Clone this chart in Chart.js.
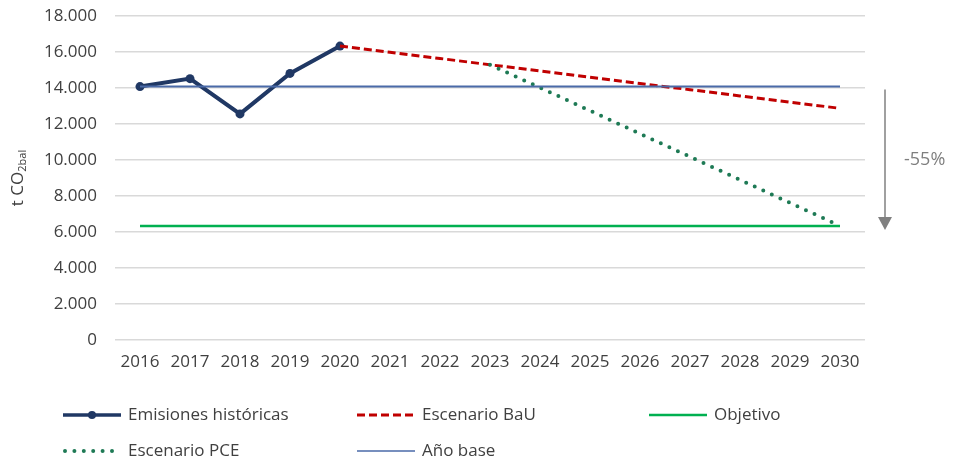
<!DOCTYPE html>
<html>
<head>
<meta charset="utf-8">
<script src="https://cdn.jsdelivr.net/npm/chart.js@4"></script>
<style>
  html, body { margin: 0; padding: 0; background: #fff; }
  #wrap { width: 955px; height: 464px; position: relative; }
</style>
</head>
<body>
<div id="wrap"><canvas id="chart1" width="955" height="464"></canvas></div>
<script>
const years = ['2016', '2017', '2018', '2019', '2020', '2021', '2022', '2023',
               '2024', '2025', '2026', '2027', '2028', '2029', '2030'];
const historic = [14080, 14520, 12560, 14810, 16330, null, null, null, null, null, null, null, null, null, null];
const bau = [null, null, null, null, 16330, 15985, 15640, 15290, 14945, 14600, 14250, 13905, 13560, 13215, 12870];
const pce = [null, null, null, null, null, null, null, 15290, 14020, 12740, 11460, 10180, 8900, 7620, 6340];
const baseYear = [14080, 14080, 14080, 14080, 14080, 14080, 14080, 14080, 14080, 14080, 14080, 14080, 14080, 14080, 14080];
const target = [6340, 6340, 6340, 6340, 6340, 6340, 6340, 6340, 6340, 6340, 6340, 6340, 6340, 6340, 6340];
const yTicks = [0, 2000, 4000, 6000, 8000, 10000, 12000, 14000, 16000, 18000];
const reductionLabel = '-55%';

const FONT = "'Open Sans', 'Noto Sans', sans-serif";
const TEXT = '#404040';

// arrow + percentage, y axis title with subscript, custom legend
const extras = {
    id: 'extras',
    afterDraw(chart) {
        const ctx = chart.ctx;
        const y = chart.scales.y;
        const area = chart.chartArea;

        // reduction arrow
        const ax = area.right + 20;
        const y1 = y.getPixelForValue(baseYear[0]);
        const y2 = y.getPixelForValue(target[target.length - 1]);
        ctx.save();
        ctx.strokeStyle = '#808080';
        ctx.fillStyle = '#808080';
        ctx.lineWidth = 1.5;
        ctx.beginPath();
        ctx.moveTo(ax, y1 + 3);
        ctx.lineTo(ax, y2 - 8);
        ctx.stroke();
        ctx.beginPath();
        ctx.moveTo(ax - 7, y2 - 9);
        ctx.lineTo(ax + 7, y2 - 9);
        ctx.lineTo(ax, y2 + 4);
        ctx.closePath();
        ctx.fill();
        ctx.fillStyle = '#7f7f7f';
        ctx.font = '18px ' + FONT;
        ctx.textAlign = 'left';
        ctx.textBaseline = 'middle';
        ctx.fillText(reductionLabel, ax + 19, (y1 + y2) / 2 + 4);
        ctx.restore();

        // y title: t CO2bal
        ctx.save();
        ctx.translate(18, (area.top + area.bottom) / 2);
        ctx.rotate(-Math.PI / 2);
        ctx.fillStyle = TEXT;
        ctx.textBaseline = 'middle';
        const main = 't CO';
        const sub = '2bal';
        ctx.font = '11px ' + FONT;
        const subW = ctx.measureText(sub).width;
        ctx.font = '17px ' + FONT;
        const mainW = ctx.measureText(main).width;
        let sx = -(mainW + subW) / 2;
        ctx.textAlign = 'left';
        ctx.fillText(main, sx, 0);
        ctx.font = '11px ' + FONT;
        ctx.fillText(sub, sx + mainW, 5);
        ctx.restore();

        // legend
        const items = [
            { label: 'Emisiones históricas', x: 63, y: 415, color: '#203864', width: 3.5, dash: [], dot: true },
            { label: 'Escenario BaU', x: 357, y: 415, color: '#c00000', width: 3, dash: [8, 4] },
            { label: 'Objetivo', x: 649, y: 415, color: '#00b050', width: 2.5, dash: [] },
            { label: 'Escenario PCE', x: 63, y: 451, color: '#1e7a55', width: 4, dash: [0, 9.4], round: true },
            { label: 'Año base', x: 357, y: 451, color: '#4a6aa8', width: 1.5, dash: [] }
        ];
        ctx.save();
        items.forEach(it => {
            ctx.strokeStyle = it.color;
            ctx.lineWidth = it.width;
            ctx.setLineDash(it.dash);
            ctx.lineCap = it.round ? 'round' : 'butt';
            ctx.beginPath();
            ctx.moveTo(it.x + (it.round ? 2 : 0), it.y);
            ctx.lineTo(it.x + 58, it.y);
            ctx.stroke();
            ctx.setLineDash([]);
            if (it.dot) {
                ctx.fillStyle = it.color;
                ctx.beginPath();
                ctx.arc(it.x + 29, it.y, 4, 0, Math.PI * 2);
                ctx.fill();
            }
            ctx.fillStyle = TEXT;
            ctx.font = '17px ' + FONT;
            ctx.textAlign = 'left';
            ctx.textBaseline = 'middle';
            ctx.fillText(it.label, it.x + 65, it.y);
        });
        ctx.restore();
    }
};

const ctx1 = document.getElementById('chart1').getContext('2d');
let chart1 = new Chart(ctx1, {
    type: 'line',
    data: {
        labels: years,
        datasets: [
            {
                label: 'Objetivo',
                data: target,
                borderColor: '#00b050',
                borderWidth: 2.5,
                pointRadius: 0
            },
            {
                label: 'Año base',
                data: baseYear,
                borderColor: '#4a6aa8',
                borderWidth: 2,
                pointRadius: 0
            },
            {
                label: 'Escenario PCE',
                data: pce,
                borderColor: '#1e7a55',
                borderWidth: 4,
                borderDash: [0, 9.4],
                borderCapStyle: 'round',
                pointRadius: 0
            },
            {
                label: 'Escenario BaU',
                data: bau,
                borderColor: '#c00000',
                borderWidth: 3,
                borderDash: [8, 4],
                pointRadius: 0
            },
            {
                label: 'Emisiones históricas',
                data: historic,
                borderColor: '#203864',
                backgroundColor: '#203864',
                borderWidth: 4,
                pointRadius: 4.5,
                pointBorderWidth: 0,
                pointHoverRadius: 4.5
            }
        ]
    },
    options: {
        responsive: false,
        animation: false,
        spanGaps: false,
        layout: { padding: { top: 16, right: 90, bottom: 84, left: 0 } },
        plugins: {
            legend: { display: false },
            tooltip: { enabled: false }
        },
        scales: {
            x: {
                offset: true,
                grid: { display: false, drawTicks: false },
                border: { display: false },
                ticks: { color: TEXT, font: { family: FONT, size: 17 }, padding: 12, maxRotation: 0, autoSkip: false },
                afterFit: s => { s.height = 40; }
            },
            y: {
                min: 0,
                max: 18000,
                afterBuildTicks: s => { s.ticks = yTicks.map(v => ({ value: v })); },
                grid: { color: '#d9d9d9', lineWidth: 1.5, drawTicks: false },
                border: { display: false },
                ticks: {
                    color: TEXT,
                    font: { family: FONT, size: 17 },
                    padding: 18,
                    callback: v => v.toLocaleString('de-DE')
                },
                afterFit: s => { s.width = 115; s.paddingTop = 0; s.paddingBottom = 0; }
            }
        }
    },
    plugins: [extras]
});
</script>
</body>
</html>
